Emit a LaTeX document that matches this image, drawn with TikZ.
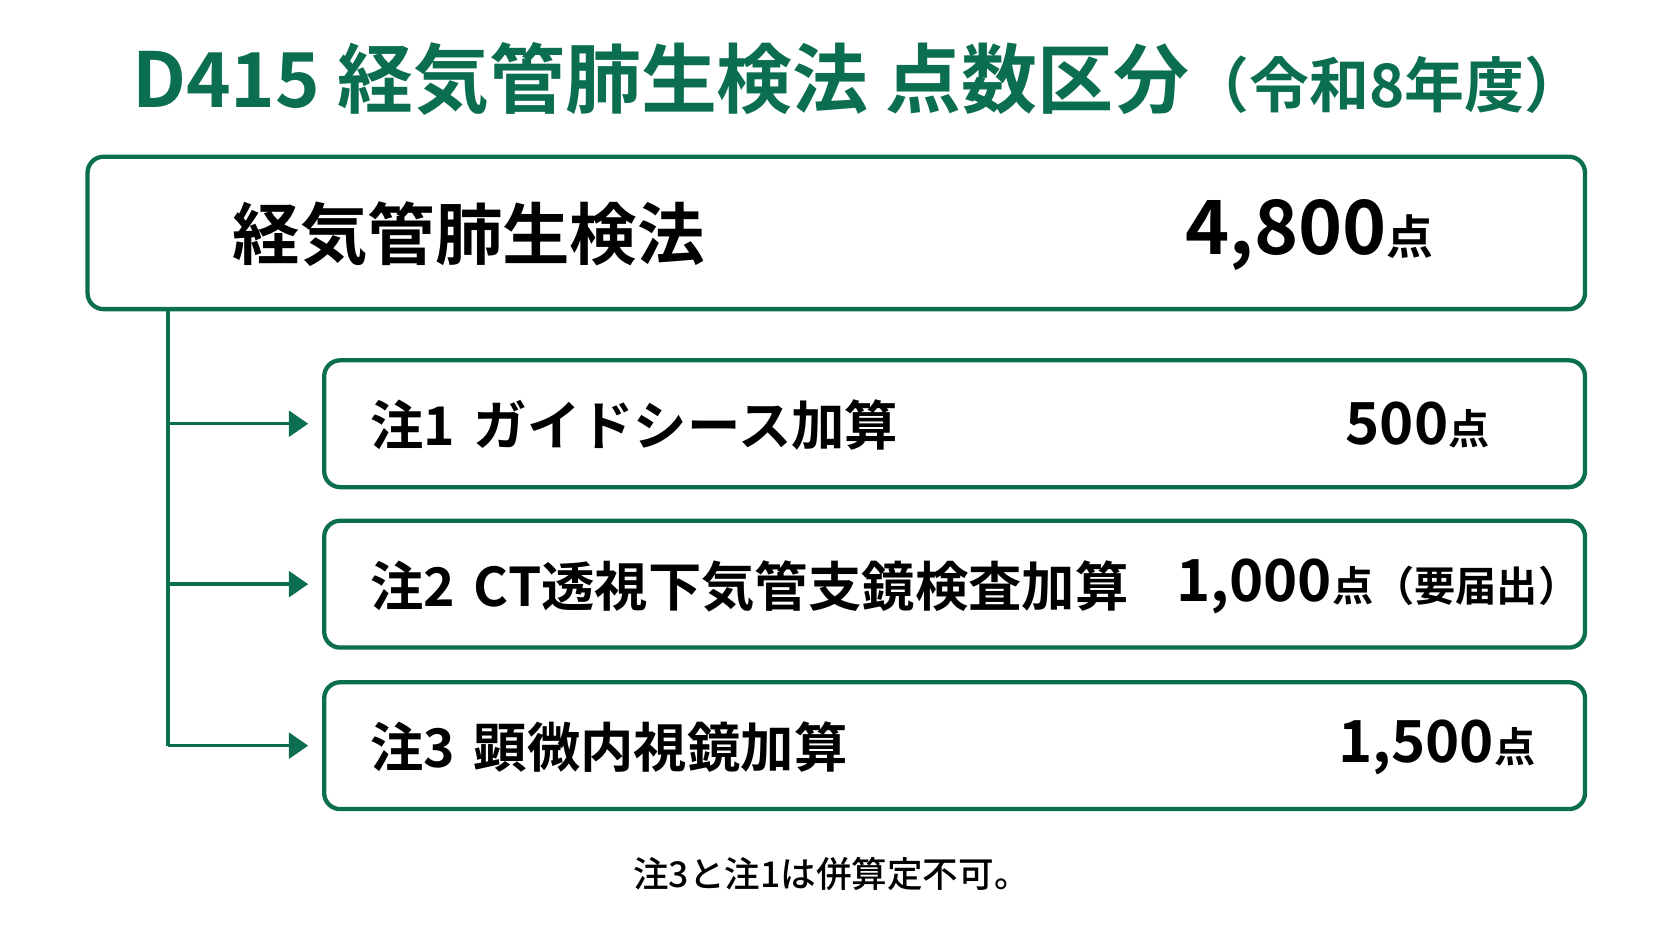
\documentclass[tikz,border=0pt]{standalone}
\usepackage{fontspec}
\setmainfont{Noto Sans CJK JP}[BoldFont={Noto Sans CJK JP Bold}]
\newfontfamily\notefont{Noto Sans CJK JP Medium}
\usetikzlibrary{arrows.meta}
\definecolor{dgreen}{RGB}{12,110,80}

\begin{document}
\begin{tikzpicture}
		[x=0.02cm,y=-0.02cm,
		box/.style={draw=dgreen,line width=2.3pt,rounded corners=0.3cm,
inner sep=0pt,minimum width=23.66cm,minimum height=2.38cm},
		mainbox/.style={box,minimum width=28.1cm,minimum height=2.86cm},
		label/.style={anchor=west,inner sep=0pt,font=\bfseries\fontsize{28.5}{33}\selectfont},
		value/.style={anchor=west,inner sep=0pt,font=\bfseries\fontsize{31}{36}\selectfont},
		trunk/.style={draw=dgreen,line width=1.8pt},
		branch/.style={trunk,-{Triangle[length=0.36cm,width=0.48cm]},shorten >=0.26cm}]
		\useasboundingbox (0,0) rectangle (1568.5,882.7);
		\node at (805,74) (title) [text=dgreen,inner sep=0pt,font=\bfseries\fontsize{40.5}{46}\selectfont]
			{D415 経気管肺生検法 点数区分{\fontsize{32}{38}\selectfont（令和8年度）}};
		\node at (784.5,218.5) (main) [mainbox] {};
		\node at (218,220) (mainlabel) [label,font=\bfseries\fontsize{36}{40}\selectfont] {経気管肺生検法};
		\node at (1112,220) (mainvalue) [value,font=\bfseries\fontsize{40}{44}\selectfont] {4,800{\fontsize{25}{30}\selectfont 点}};
		\node at (895.5,397.5) (n1) [box] {};
		\node at (895.5,548) (n2) [box] {};
		\node at (895.5,699.5) (n3) [box] {};
		\node at (347,399) (l1) [label] {注1\hspace{0.35em}ガイドシース加算};
		\node at (347,550) (l2) [label] {注2\hspace{0.35em}CT透視下気管支鏡検査加算};
		\node at (347,701) (l3) [label] {注3\hspace{0.35em}顕微内視鏡加算};
		\node at (1262,399) (v1) [value] {500{\fontsize{22}{26}\selectfont 点}};
		\node at (1103,550) (v2) [value] {1,000{\fontsize{22}{26}\selectfont 点（要届出）}};
		\node at (1255,701) (v3) [value] {1,500{\fontsize{22}{26}\selectfont 点}};
		\node at (780,820) (note) [inner sep=0pt,font=\notefont\fontsize{19}{23}\selectfont] {注3と注1は併算定不可。};
		\coordinate (top) at (157.6,290);
		\draw[trunk] (top |- main.south) -- (top |- n3.west);
		\foreach \n in {n1,n2,n3}
			\draw[branch] (top |- \n.west) -- (\n.west);
	\end{tikzpicture}
\end{document}
